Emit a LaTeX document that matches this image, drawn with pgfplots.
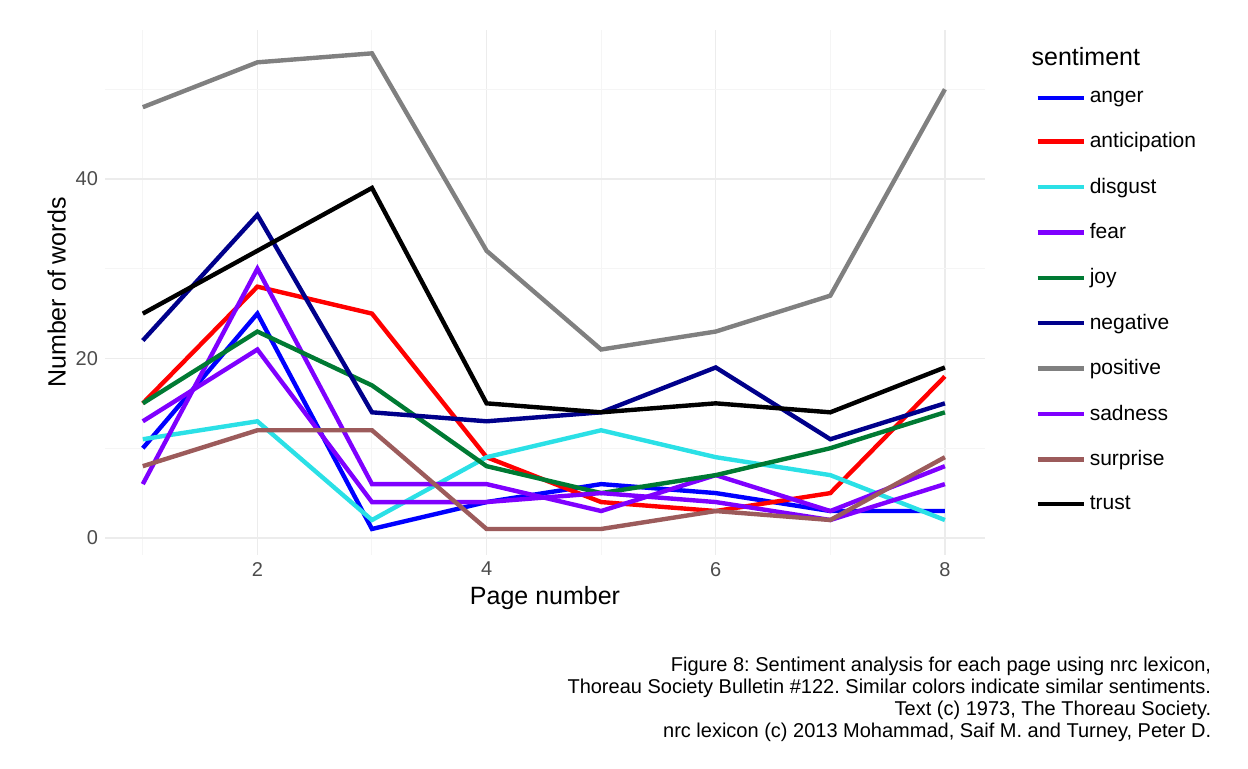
\documentclass[border=0pt]{standalone}
\usepackage{pgfplots}
\pgfplotsset{compat=1.18}
\usepackage{fontspec}
\setmainfont{Liberation Sans}
\frenchspacing
\definecolor{cfear}{HTML}{7F00FF}
\definecolor{cneg}{HTML}{00008B}
\definecolor{cjoy}{HTML}{007A33}
\definecolor{cdis}{HTML}{2BE0E6}
\definecolor{csur}{HTML}{9C5B5B}
\begin{document}
\begin{tikzpicture}
\begin{axis}[
  scale only axis, width=440pt, height=262.5pt,
  xmin=0.67, xmax=8.35, ymin=-1.9, ymax=56.6,
  axis line style={draw=none},
  major tick length=0pt, minor tick length=0pt,
  xtick={2,4,6,8}, ytick={0,20,40},
  minor xtick={1,3,5,7}, minor ytick={10,30,50},
  grid=both,
  major grid style={gray!15, line width=0.7pt},
  minor grid style={gray!8, line width=0.5pt},
  tick label style={font=\fontsize{10}{12}\selectfont, text=gray!60!black},
  /pgf/number format/assume math mode=true,
  xlabel={Page number}, ylabel={Number of words},
  label style={font=\fontsize{12.5}{14}\selectfont},
  xlabel style={yshift=2pt}, ylabel style={yshift=-2pt},
  every axis plot/.append style={line width=2.2pt, no markers},
  legend style={draw=none, fill=none, at={(1.05,0.9)}, anchor=north west,
    font=\fontsize{10.5}{12}\selectfont, row sep=9.6pt},
  legend cell align=left,
  legend image code/.code={\draw[#1] (0pt,0pt) -- (23pt,0pt);},
  clip=false,
]
\addplot[color=blue] coordinates {(1,10)(2,25)(3,1)(4,4)(5,6)(6,5)(7,3)(8,3)};
\addlegendentry{anger}
\addplot[color=red] coordinates {(1,15)(2,28)(3,25)(4,9)(5,4)(6,3)(7,5)(8,18)};
\addlegendentry{anticipation}
\addplot[color=cdis] coordinates {(1,11)(2,13)(3,2)(4,9)(5,12)(6,9)(7,7)(8,2)};
\addlegendentry{disgust}
\addplot[color=cfear] coordinates {(1,6)(2,30)(3,6)(4,6)(5,3)(6,7)(7,3)(8,8)};
\addlegendentry{fear}
\addplot[color=cjoy] coordinates {(1,15)(2,23)(3,17)(4,8)(5,5)(6,7)(7,10)(8,14)};
\addlegendentry{joy}
\addplot[color=cneg] coordinates {(1,22)(2,36)(3,14)(4,13)(5,14)(6,19)(7,11)(8,15)};
\addlegendentry{negative}
\addplot[color=gray] coordinates {(1,48)(2,53)(3,54)(4,32)(5,21)(6,23)(7,27)(8,50)};
\addlegendentry{positive}
\addplot[color=cfear] coordinates {(1,13)(2,21)(3,4)(4,4)(5,5)(6,4)(7,2)(8,6)};
\addlegendentry{sadness}
\addplot[color=csur] coordinates {(1,8)(2,12)(3,12)(4,1)(5,1)(6,3)(7,2)(8,9)};
\addlegendentry{surprise}
\addplot[color=black] coordinates {(1,25)(3,39)(4,15)(5,14)(6,15)(7,14)(8,19)};
\addlegendentry{trust}
\node[anchor=west, font=\fontsize{12.5}{14}\selectfont] at (rel axis cs:1.045,0.95) {sentiment};
\node[anchor=north east, align=right, font=\fontsize{10}{11}\selectfont] at (rel axis cs:1.265,-0.18)
 {Figure 8: Sentiment analysis for each page using nrc lexicon,\\
  Thoreau Society Bulletin \#122. Similar colors indicate similar sentiments.\\
  Text (c) 1973, The Thoreau Society.\\
  nrc lexicon (c) 2013 Mohammad, Saif M. and Turney, Peter D.};
\end{axis}
\pgfresetboundingbox
\path ([shift={(-52.5pt,-106.5pt)}]current axis.south west) rectangle ([shift={(571.5pt,277.5pt)}]current axis.south west);
\end{tikzpicture}
\end{document}
